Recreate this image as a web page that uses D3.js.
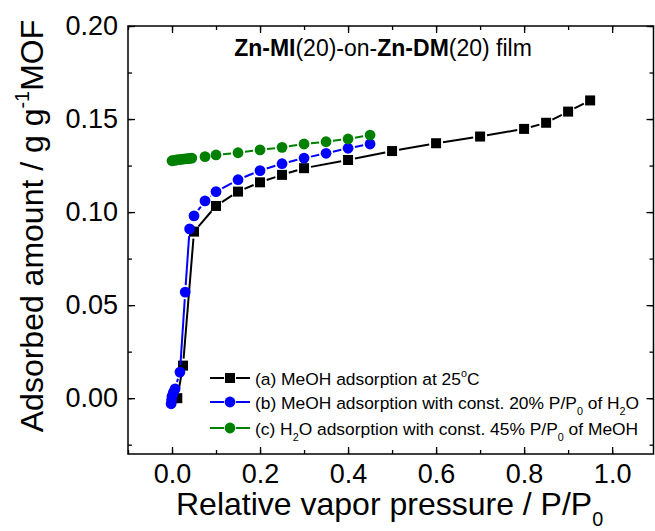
<!DOCTYPE html>
<html>
<head>
<meta charset="utf-8">
<script src="https://cdn.jsdelivr.net/npm/d3@7"></script>
<style>
  body { margin: 0; background: #fff; }
  text { font-family: "Liberation Sans", Arial, sans-serif; fill: #000; }
</style>
</head>
<body>
<svg width="655" height="531"></svg>
<script>
// (a) MeOH adsorption at 25 C
var aX = [0.002, 0.012, 0.025, 0.05, 0.1, 0.15, 0.2, 0.25, 0.3, 0.4, 0.5, 0.6, 0.7, 0.8, 0.85, 0.9, 0.95];
var aY = [0.0, 0.0, 0.0175, 0.0895, 0.1033, 0.111, 0.116, 0.120, 0.1236, 0.128, 0.1328, 0.137, 0.1406, 0.1447, 0.148, 0.154, 0.160];
// (b) MeOH adsorption with 20% P/P0 of H2O
var bX = [-0.002, -0.001, 0.0, 0.003, 0.007, 0.018, 0.03, 0.04, 0.05, 0.075, 0.1, 0.15, 0.2, 0.25, 0.3, 0.35, 0.4, 0.45];
var bY = [-0.003, -0.001, 0.001, 0.003, 0.005, 0.014, 0.057, 0.091, 0.098, 0.106, 0.111, 0.1174, 0.1223, 0.126, 0.129, 0.1316, 0.1343, 0.1366];
// (c) H2O adsorption with 45% P/P0 of MeOH
var cX = [0.0, 0.005, 0.01, 0.015, 0.02, 0.025, 0.03, 0.035, 0.04, 0.045, 0.075, 0.1, 0.15, 0.2, 0.25, 0.3, 0.35, 0.4, 0.45];
var cY = [0.1276, 0.1278, 0.128, 0.1282, 0.1283, 0.1285, 0.1286, 0.1287, 0.1288, 0.129, 0.1298, 0.1307, 0.1319, 0.1334, 0.1348, 0.1366, 0.1378, 0.1393, 0.1414];

var xTicks = [0.0, 0.2, 0.4, 0.6, 0.8, 1.0];
var yTicks = [0.00, 0.05, 0.10, 0.15, 0.20];

var svg = d3.select("svg");

var x = d3.scaleLinear().domain([-0.1, 1.094]).range([128, 653.5]);
var y = d3.scaleLinear().domain([-0.03, 0.20]).range([454, 26]);

// writes a label made of runs: plain, "b" bold, "sub", "sup"
function rich(sel, parts, size) {
  var back = 0;
  parts.forEach(function(p) {
    var t = sel.append("tspan").text(p[0]);
    var dy = 0;
    if (p[1] == "sub") dy = 0.35 * size;
    if (p[1] == "sup") dy = -0.45 * size;
    if (p[1] == "b") t.style("font-weight", "bold");
    if (dy) t.style("font-size", (size * 0.62) + "px");
    if (dy - back) t.attr("dy", dy - back);
    back = dy;
  });
}

// axes with inward ticks on all four sides
var xMinor = d3.range(-0.1, 1.09, 0.1);
var yMinor = d3.range(-0.025, 0.2001, 0.025);

function frameAxis(axis, pos) {
  var g = svg.append("g").attr("transform", pos);
  g.call(axis);
  g.select(".domain").remove();
  g.selectAll("line").attr("stroke", "#000").attr("stroke-width", 1.3);
  return g;
}

frameAxis(d3.axisBottom(x).tickValues(xMinor).tickSize(-4).tickFormat(""), "translate(0,454)");
frameAxis(d3.axisBottom(x).tickValues(xTicks).tickSize(-7).tickFormat(d3.format(".1f")), "translate(0,454)")
  .selectAll("text").attr("y", 10).style("font-size", "27px").attr("dy", "0.71em");
frameAxis(d3.axisTop(x).tickValues(xMinor).tickSize(-4).tickFormat(""), "translate(0,26)");
frameAxis(d3.axisTop(x).tickValues(xTicks).tickSize(-7).tickFormat(""), "translate(0,26)");

frameAxis(d3.axisLeft(y).tickValues(yMinor).tickSize(-4).tickFormat(""), "translate(128,0)");
frameAxis(d3.axisLeft(y).tickValues(yTicks).tickSize(-7).tickFormat(d3.format(".2f")), "translate(128,0)")
  .selectAll("text").attr("x", -10).style("font-size", "27px");
frameAxis(d3.axisRight(y).tickValues(yMinor).tickSize(-4).tickFormat(""), "translate(653.5,0)");
frameAxis(d3.axisRight(y).tickValues(yTicks).tickSize(-7).tickFormat(""), "translate(653.5,0)");

svg.append("rect")
  .attr("x", 128).attr("y", 26)
  .attr("width", 653.5 - 128).attr("height", 454 - 26)
  .attr("fill", "none").attr("stroke", "#000").attr("stroke-width", 1.5);

// series: segments stop short of each marker, like the plotting program does
var series = [
  { xs: aX, ys: aY, color: "#000000", shape: "square" },
  { xs: bX, ys: bY, color: "#0000ff", shape: "circle" },
  { xs: cX, ys: cY, color: "#008000", shape: "circle" }
];
var gap = 7;

function drawMarker(g, shape, color, cx, cy) {
  if (shape == "square") {
    g.append("rect").attr("x", cx - 5).attr("y", cy - 5).attr("width", 10).attr("height", 10).attr("fill", color);
  } else {
    g.append("circle").attr("cx", cx).attr("cy", cy).attr("r", 5.4).attr("fill", color);
  }
}

series.forEach(function(s) {
  var g = svg.append("g");
  var pts = s.xs.map(function(v, i) { return [x(v), y(s.ys[i])]; });
  for (var i = 1; i < pts.length; i++) {
    var p0 = pts[i - 1], p1 = pts[i];
    var dx = p1[0] - p0[0], dy = p1[1] - p0[1];
    var len = Math.sqrt(dx * dx + dy * dy);
    if (len <= 2 * gap) continue;
    var ux = dx / len, uy = dy / len;
    g.append("line")
      .attr("x1", p0[0] + ux * gap).attr("y1", p0[1] + uy * gap)
      .attr("x2", p1[0] - ux * gap).attr("y2", p1[1] - uy * gap)
      .attr("stroke", s.color).attr("stroke-width", 2);
  }
  pts.forEach(function(p) { drawMarker(g, s.shape, s.color, p[0], p[1]); });
});

// title inside the frame
rich(svg.append("text").attr("x", 383).attr("y", 56).attr("text-anchor", "middle").style("font-size", "23px"),
  [["Zn-MI", "b"], ["(20)-on-", null], ["Zn-DM", "b"], ["(20) film", null]], 23);

// legend
var legend = [
  { color: "#000000", shape: "square", y: 378, parts: [["(a) MeOH adsorption at 25", null], ["o", "sup"], ["C", null]] },
  { color: "#0000ff", shape: "circle", y: 402, parts: [["(b) MeOH adsorption with const. 20% P/P", null], ["0", "sub"], [" of H", null], ["2", "sub"], ["O", null]] },
  { color: "#008000", shape: "circle", y: 428, parts: [["(c) H", null], ["2", "sub"], ["O adsorption with const. 45% P/P", null], ["0", "sub"], [" of MeOH", null]] }
];
legend.forEach(function(l) {
  var g = svg.append("g");
  g.append("line").attr("x1", 210).attr("x2", 224).attr("y1", l.y).attr("y2", l.y).attr("stroke", l.color).attr("stroke-width", 2);
  g.append("line").attr("x1", 236).attr("x2", 250).attr("y1", l.y).attr("y2", l.y).attr("stroke", l.color).attr("stroke-width", 2);
  drawMarker(g, l.shape, l.color, 230, l.y);
  rich(g.append("text").attr("x", 255).attr("y", l.y + 6.5).style("font-size", "17.4px"), l.parts, 17.4);
});

// axis titles
rich(svg.append("text").attr("x", 176).attr("y", 515).style("font-size", "32px"),
  [["Relative vapor pressure / P/P", null], ["0", "sub"]], 32);
rich(svg.append("text").attr("transform", "translate(43,226) rotate(-90)").attr("text-anchor", "middle").style("font-size", "32px"),
  [["Adsorbed amount / g g", null], ["-1", "sup"], ["MOF", null]], 32);
</script>
</body>
</html>
